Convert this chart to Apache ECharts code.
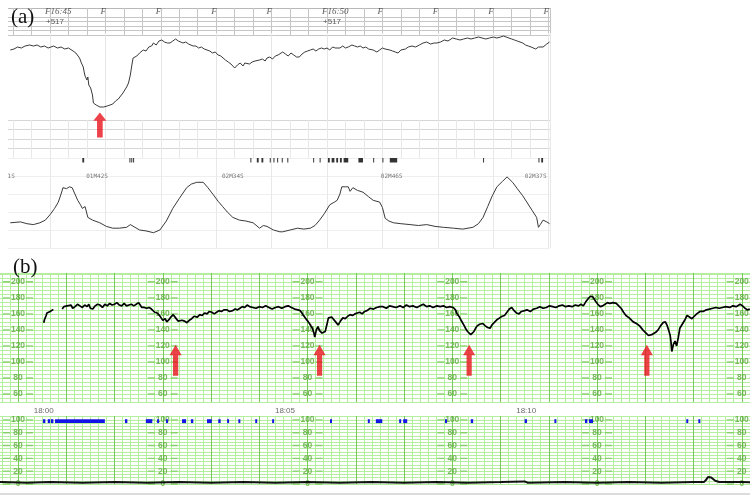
<!DOCTYPE html>
<html>
<head>
<meta charset="utf-8">
<script src="https://cdn.jsdelivr.net/npm/echarts@6/dist/echarts.min.js"></script>
<style>
  html, body { margin: 0; background: #fff; }
  #main { width: 750px; height: 497px; }
</style>
</head>
<body>
<div id="main"></div>
<script>
// ---- panel (a): scanned trace, time in seconds from 16:45 ----
const fhrA = [[-43,153],[-39,154],[-35,156],[-31,155],[-27,157],[-22,158],[-18,157],[-14,158],[-10,156],[-6,157],[-2,155],[0,156],[4,157],[8,155],[12,156],[16,154],[20,155],[22,153],[25,152],[28,150],[30,148],[32,145],[34,140],[36,136],[37,131],[38,127],[40,123],[41,126],[42,118],[44,115],[45,113],[46,108],[47,100],[50,98],[54,96],[58,96],[62,97],[65,98],[68,99],[71,102],[74,104],[76,106],[79,110],[81,113],[83,116],[85,120],[86,124],[87,128],[88,134],[89,140],[90,145],[92,143],[94,147],[97,150],[99,149],[101,153],[104,152],[107,156],[110,157],[112,160],[115,158],[118,162],[121,163],[124,161],[127,160],[130,160],[133,162],[136,164],[139,162],[141,163],[144,160],[147,161],[150,159],[152,158],[155,157],[158,157],[161,155],[164,156],[167,154],[170,153],[173,152],[176,150],[179,151],[182,148],[185,147],[187,145],[190,143],[193,141],[196,139],[198,137],[200,135],[203,138],[206,140],[209,137],[211,140],[213,141],[216,139],[219,141],[222,142],[224,140],[227,143],[230,144],[233,142],[235,145],[238,146],[241,144],[244,147],[247,148],[249,148],[252,151],[255,149],[258,147],[261,150],[264,148],[267,146],[270,146],[273,149],[276,151],[279,152],[282,153],[285,154],[288,152],[291,154],[294,155],[297,154],[300,155],[303,153],[306,156],[309,155],[311,156],[314,155],[317,157],[320,155],[323,156],[327,158],[330,157],[333,156],[336,157],[339,155],[342,156],[345,154],[347,155],[350,153],[354,151],[357,153],[360,155],[363,154],[365,156],[368,153],[371,152],[374,151],[377,150],[380,153],[382,155],[385,154],[388,156],[392,157],[396,156],[400,158],[404,160],[408,161],[412,159],[416,160],[419,160],[423,161],[427,163],[431,162],[436,165],[440,164],[444,163],[448,164],[452,165],[456,164],[460,165],[464,166],[468,165],[472,164],[476,165],[480,166],[484,165],[488,166],[491,167],[494,166],[497,165],[500,164],[503,163],[506,162],[509,161],[512,160],[515,158],[518,157],[521,156],[523,155],[526,154],[529,156],[531,155],[534,156],[536,158],[538,159],[541,161]];

const ucA = [[-43,28],[-32,29],[-25,27],[-18,26],[-11,28],[-5,31],[0,37],[5,44],[9,51],[12,60],[14,67],[18,66],[21,68],[24,67],[27,60],[30,53],[33,48],[35,44],[38,46],[41,34],[46,31],[54,28],[61,24],[68,22],[75,22],[83,23],[87,26],[92,23],[97,20],[104,19],[112,17],[119,20],[126,30],[133,44],[140,55],[148,67],[153,71],[159,73],[166,73],[171,67],[177,59],[182,52],[187,46],[192,40],[198,34],[205,31],[212,30],[220,28],[227,22],[231,25],[235,24],[242,20],[249,18],[252,18],[260,20],[268,22],[275,21],[282,22],[287,25],[292,31],[297,38],[303,48],[308,51],[311,53],[314,60],[316,68],[320,68],[323,68],[325,63],[328,67],[333,64],[339,62],[345,57],[350,53],[357,51],[360,45],[363,33],[367,30],[372,28],[380,27],[390,26],[399,25],[408,26],[417,24],[426,23],[437,22],[447,21],[458,23],[464,27],[469,34],[474,46],[479,58],[484,68],[490,74],[495,79],[501,73],[506,66],[512,58],[517,50],[522,42],[527,34],[529,23],[531,26],[534,31],[538,29],[541,27]];

// event marks under the FHR paper [start s, end s]
const eventA = [[35,37],[86,87],[88,89],[90,91],[217,218],[224,226],[229,231],[238,239],[242,243],[246,247],[251,252],[257,258],[285,286],[292,293],[301,303],[305,308],[310,312],[314,316],[318,323],[334,339],[350,351],[360,361],[368,376],[469,470],[529,530],[532,534]];

const headRow1 = [[0,'F16:45'],[60,'F'],[120,'F'],[180,'F'],[240,'F'],[300,'F16:50'],[360,'F'],[420,'F'],[480,'F'],[540,'F']];
const headRow2 = [[0,'+517'],[300,'+517']];
const ucLabelsA = [[-42,79,'1S'],[51,79,'01M42S'],[198,79,'02M34S'],[370,79,'02M46S'],[526,79,'02M37S']];
const arrowA = [[54,78]];

// ---- panel (b): green grid, time in seconds ----
const fhrB = [[32,149],[33,153],[35,158],[36,161],[38,160],[40,163],[41,162],[43,165],[44,165],[49,null],
[55,166],[57,169],[58,171],[61,170],[63,168],[66,171],[68,167],[71,169],[74,172],[77,170],[80,168],[83,171],[86,169],[88,172],[90,167],[93,166],[96,170],[99,172],[102,171],[105,168],[108,172],[111,170],[114,173],[117,171],[120,172],[123,174],[126,171],[129,170],[132,173],[135,170],[138,171],[141,172],[144,170],[147,172],[150,174],[152,175],[154,168],[157,168],[160,167],[163,168],[166,166],[168,165],[170,162],[173,161],[176,158],[178,155],[180,152],[183,154],[185,150],[188,153],[190,156],[193,159],[196,155],[199,151],[201,150],[204,152],[207,151],[210,149],[213,152],[216,154],[219,157],[223,156],[226,159],[229,158],[232,161],[235,160],[238,163],[241,162],[244,160],[247,162],[250,164],[253,163],[256,165],[260,165],[263,163],[267,164],[270,166],[273,165],[276,167],[279,169],[282,168],[285,171],[288,169],[292,168],[296,167],[300,169],[304,168],[308,170],[312,168],[316,166],[320,168],[324,169],[328,167],[332,169],[336,170],[340,168],[344,166],[348,165],[351,164],[353,161],[355,158],[358,154],[361,150],[363,147],[366,142],[368,136],[369,131],[371,140],[373,144],[375,139],[378,136],[380,134],[382,138],[384,146],[386,155],[388,154],[390,156],[392,155],[395,150],[398,146],[401,151],[404,155],[407,154],[410,157],[413,159],[416,158],[419,160],[422,161],[425,162],[428,160],[431,163],[434,164],[438,167],[442,166],[446,168],[450,169],[454,169],[458,167],[462,170],[466,169],[470,168],[475,170],[479,168],[483,171],[487,169],[491,170],[496,168],[500,170],[504,172],[508,169],[512,170],[516,168],[521,170],[525,169],[529,170],[533,168],[537,169],[541,168],[544,165],[546,160],[549,156],[551,152],[553,150],[555,145],[557,141],[559,138],[561,136],[563,134],[565,133],[567,138],[569,142],[571,145],[574,147],[576,149],[578,148],[581,145],[584,143],[587,142],[590,147],[593,150],[596,153],[599,155],[602,157],[605,158],[608,162],[611,166],[614,168],[617,164],[620,161],[623,160],[626,163],[630,164],[633,165],[637,163],[641,166],[645,167],[649,169],[653,167],[657,168],[661,170],[665,169],[669,168],[673,170],[677,171],[681,169],[685,170],[689,169],[693,171],[697,170],[700,172],[703,170],[706,175],[709,179],[712,182],[715,181],[718,176],[721,172],[724,169],[727,170],[730,172],[733,174],[736,173],[740,174],[744,173],[747,170],[750,167],[753,162],[756,158],[760,155],[765,150],[769,148],[773,145],[777,140],[781,136],[784,133],[786,131],[788,134],[790,133],[793,137],[796,140],[799,145],[802,149],[805,150],[807,146],[809,140],[811,133],[812,125],[813,113],[815,122],[817,126],[819,120],[821,130],[823,142],[826,147],[829,152],[832,158],[835,156],[838,154],[841,157],[844,160],[848,163],[852,163],[856,165],[860,166],[864,167],[868,168],[872,167],[876,168],[880,169],[885,168],[889,170],[893,169],[898,172],[901,170],[904,167],[907,165],[910,166]];

const ucB = [[-60,3],[-20,3],[10,2],[40,3],[80,2],[120,3],[160,2],[200,3],[240,2],[280,3],[320,2],[360,3],[400,2],[440,3],[480,2],[520,3],[560,2],[600,3],[630,4],[634,2],[680,3],[720,2],[760,3],[800,2],[840,3],[853,3],[856,7],[858,11],[860,14],[862,10],[864,8],[867,5],[872,3],[900,3],[940,2],[960,3]];

const moveB = [[31,34],[37,40],[41,44],[46,108],[133,136],[159,167],[173,175],[184,185],[204,209],[215,218],[235,241],[249,252],[260,261],[274,276],[295,297],[316,318],[388,390],[435,436],[445,453],[474,476],[479,484],[531,533],[563,566],[630,633],[667,669],[705,708],[710,715],[831,833],[846,847]];

const arrowsB = [[196,102],[375,102],[561,102],[782,102]];
const labelColsB = [0, 180, 360, 540, 720, 900];
const fhrTicksB = [200, 180, 160, 140, 120, 100, 80, 60];
const ucTicksB = [100, 80, 60, 40, 20, 0];
const timeLabelsB = [[32,'18:00'],[332,'18:05'],[632,'18:10']];

// ---- layout ----
const A_PX = 55.4 / 60, A_X0 = 50, A_MIN = -60, A_MAX = 541.5;
const B_PX = 48.25 / 60, B_X0 = 18, B_MIN = -60, B_MAX = 960;
const aLeft = A_X0 + A_MIN * A_PX;
const bLeft = B_X0 + B_MIN * B_PX;
const bRight = 750 - (B_X0 + B_MAX * B_PX);

const GREEN_MINOR = '#b3ef9f', GREEN_MAJOR = '#78c95a', GREEN_TEXT = '#5aa83a';
const RED = '#e8131b';

function grid(top, height, left, right) {
    return { top, height, left, right, outerBoundsMode: 'none', containLabel: false, show: false };
}
function xAx(gridIndex, min, max, interval, color, width) {
    return {
        type: 'value', gridIndex, min, max, interval,
        axisLine: { show: false }, axisTick: { show: false }, axisLabel: { show: false },
        splitLine: { show: !!color, lineStyle: { color: color || '#000', width: width || 1 } }
    };
}
function yAx(gridIndex, min, max, interval, color) {
    return {
        type: 'value', gridIndex, min, max, interval,
        axisLine: { show: false }, axisTick: { show: false }, axisLabel: { show: false },
        splitLine: { show: !!color, lineStyle: { color: color || '#000', width: 1 } }
    };
}
function markRect(lo, hi, minW, color) {
    return function (params, api) {
        const a = api.coord([api.value(0), hi]);
        const b = api.coord([api.value(1), lo]);
        return {
            type: 'rect',
            shape: { x: a[0], y: a[1], width: Math.max(b[0] - a[0], minW), height: b[1] - a[1] },
            style: { fill: color }
        };
    };
}
function textSeries(xi, yi, data, font) {
    return {
        type: 'scatter', xAxisIndex: xi, yAxisIndex: yi, symbolSize: 0.1, silent: true,
        itemStyle: { color: 'transparent' }, data,
        label: Object.assign({ show: true, formatter: p => p.value[2] }, font)
    };
}
const arrowPath = 'path://M6,0 L12,10 L8.6,10 L8.6,30 L3.4,30 L3.4,10 L0,10 Z';

const ticksUpper = [], ticksLower = [];
labelColsB.forEach(c => {
    fhrTicksB.forEach(v => ticksUpper.push([c, v, String(v)]));
    ucTicksB.forEach(v => ticksLower.push([c, v, String(v)]));
});
const tickFont = {
    position: 'inside', color: GREEN_TEXT, fontFamily: 'Liberation Sans', fontSize: 8.5, fontWeight: 'bold'
};
const dashSymbol = 'path://M0,0h7v2h-7z M23,0h7v2h-7z';

const option = {
    backgroundColor: '#fff',
    animation: false,
    title: [
        { text: '(a)', left: 11, top: 7, padding: 0, textStyle: { fontFamily: 'Liberation Serif', fontSize: 21, fontWeight: 'normal', color: '#111' } },
        { text: '(b)', left: 13, top: 257, padding: 0, textStyle: { fontFamily: 'Liberation Serif', fontSize: 21, fontWeight: 'normal', color: '#111' } }
    ],
    graphic: [
        { type: 'rect', left: 0, top: 0, z: 5, shape: { width: 8, height: 252 }, style: { fill: '#fff' } }
    ],
    grid: [
        grid(8, 9, aLeft, 200),
        grid(17, 18, aLeft, 200),
        grid(33, 125, aLeft, 200),
        grid(120, 38, aLeft, 200),
        grid(158, 90, aLeft, 200),
        grid(273, 129, bLeft, bRight),
        grid(416, 68, bLeft, bRight)
    ],
    xAxis: [
        xAx(0, A_MIN, A_MAX, 20, '#c6c6c6'),
        xAx(1, A_MIN, A_MAX, 20, '#c6c6c6'),
        xAx(2, A_MIN, A_MAX, 60, '#e6e6e6'),
        xAx(3, A_MIN, A_MAX, 20, '#e8e8e8'),
        xAx(4, A_MIN, A_MAX, 60, '#e8e8e8'),
        xAx(5, B_MIN, B_MAX, 10, GREEN_MINOR),
        xAx(5, B_MIN, B_MAX, 60, GREEN_MAJOR),
        Object.assign(xAx(6, B_MIN, B_MAX, 10, GREEN_MINOR), {
            axisLine: { show: true, onZero: false, lineStyle: { color: '#d0d0d0', width: 1.5 } }, offset: 10
        }),
        xAx(6, B_MIN, B_MAX, 60, GREEN_MAJOR)
    ],
    yAxis: [
        yAx(0, 0, 9, 9, '#b8b8b8'),
        yAx(1, 0, 18, 4.5, '#c6c6c6'),
        yAx(2, 45, 170, null, null),
        yAx(3, 0, 38, 9.5, '#d6d6d6'),
        yAx(4, 0, 100, 20, '#efefef'),
        yAx(5, 50, 211, 5, GREEN_MINOR),
        yAx(6, 0, 106, 5, GREEN_MINOR)
    ],
    series: [
        // panel (a)
        { type: 'line', xAxisIndex: 2, yAxisIndex: 2, data: fhrA, symbol: 'none',
          lineStyle: { color: '#3a3a3a', width: 1 } },
        { type: 'line', xAxisIndex: 4, yAxisIndex: 4, data: ucA, symbol: 'none',
          lineStyle: { color: '#3a3a3a', width: 1 } },
        { type: 'custom', xAxisIndex: 4, yAxisIndex: 4, data: eventA,
          renderItem: markRect(95, 100, 1, '#333') },
        textSeries(0, 0, headRow1.map(d => [d[0], 4.5, d[1]]),
            { position: 'inside', align: 'left', offset: [-5, -1], color: '#333', fontFamily: 'Liberation Serif', fontStyle: 'italic', fontSize: 9 }),
        textSeries(1, 1, headRow2.map(d => [d[0], 13, d[1]]),
            { position: 'inside', align: 'left', offset: [-4, 0], color: '#333', fontFamily: 'Liberation Sans', fontSize: 8 }),
        textSeries(4, 4, ucLabelsA,
            { position: 'inside', color: '#555', fontFamily: 'DejaVu Sans Mono', fontSize: 6 }),
        { type: 'scatter', xAxisIndex: 2, yAxisIndex: 2, data: arrowA, symbol: arrowPath,
          symbolSize: [13, 25], itemStyle: { color: RED }, z: 4 },

        // panel (b)
        { type: 'scatter', xAxisIndex: 5, yAxisIndex: 5, data: ticksUpper, symbol: dashSymbol,
          symbolSize: [30, 1.4], itemStyle: { color: GREEN_MAJOR }, silent: true,
          label: Object.assign({ show: true, formatter: p => p.value[2] }, tickFont) },
        { type: 'scatter', xAxisIndex: 7, yAxisIndex: 6, data: ticksLower, symbol: dashSymbol,
          symbolSize: [30, 1.4], itemStyle: { color: GREEN_MAJOR }, silent: true, clip: false,
          label: Object.assign({ show: true, formatter: p => p.value[2] }, tickFont) },
        { type: 'line', xAxisIndex: 5, yAxisIndex: 5, data: fhrB, symbol: 'none', connectNulls: false,
          lineStyle: { color: '#000', width: 1.7 }, z: 3 },
        { type: 'scatter', xAxisIndex: 5, yAxisIndex: 5, data: arrowsB, symbol: arrowPath,
          symbolSize: [12, 31], itemStyle: { color: RED }, z: 4 },
        { type: 'custom', xAxisIndex: 7, yAxisIndex: 6, data: moveB,
          renderItem: markRect(95, 101, 2, '#1414e6'), z: 3 },
        { type: 'line', xAxisIndex: 7, yAxisIndex: 6, data: ucB, symbol: 'none',
          lineStyle: { color: '#111', width: 2 }, z: 3 },
        textSeries(7, 6, timeLabelsB.map(d => [d[0], 105.5, d[1]]),
            { position: 'top', distance: 1, color: '#444', fontFamily: 'Liberation Sans', fontSize: 8 })
    ]
};

const chart = echarts.init(document.getElementById('main'), null, { renderer: 'canvas' });
chart.setOption(option);
</script>
</body>
</html>
